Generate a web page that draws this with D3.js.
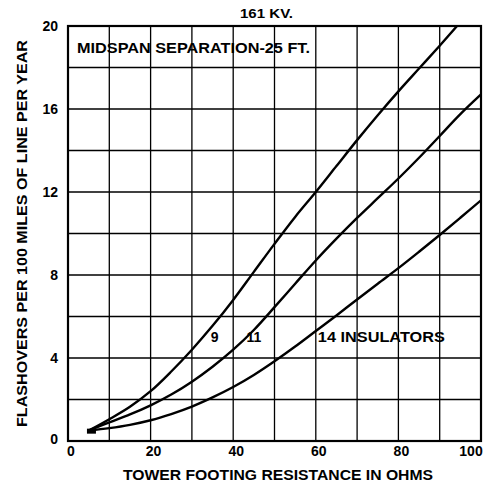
<!DOCTYPE html>
<html><head><meta charset="utf-8">
<script src="https://cdn.jsdelivr.net/npm/d3@7"></script>
<style>
html,body{margin:0;padding:0;background:#fff;}
svg{display:block;}
text{font-family:"Liberation Sans","DejaVu Sans",sans-serif;font-weight:bold;fill:#000;}
</style></head>
<body>
<script>
// ---- data ----
const xTicks = [0, 20, 40, 60, 80, 100];
const yTicks = [0, 4, 8, 12, 16, 20];
const xGrid = [10, 20, 30, 40, 50, 60, 70, 80, 90];
const yGrid = [2, 4, 6, 8, 10, 12, 14, 16, 18];
const seriesNames = ["9", "11", "14 INSULATORS"];
const curve9x  = [5, 10, 15, 20, 25, 30, 35, 40, 45, 50, 55, 60, 65, 70, 75, 80, 85, 90, 94.2];
const curve9y  = [0.5, 1.05, 1.65, 2.4, 3.35, 4.4, 5.55, 6.8, 8.15, 9.5, 10.8, 12.0, 13.25, 14.5, 15.7, 16.85, 17.95, 19.05, 20];
const curve11x = [5, 10, 15, 20, 25, 30, 35, 40, 45, 50, 55, 60, 65, 70, 75, 80, 85, 90, 95, 100];
const curve11y = [0.5, 0.9, 1.28, 1.72, 2.24, 2.86, 3.58, 4.4, 5.35, 6.45, 7.58, 8.7, 9.75, 10.75, 11.7, 12.65, 13.65, 14.7, 15.75, 16.7];
const curve14x = [5, 10, 15, 20, 25, 30, 35, 40, 45, 50, 55, 60, 65, 70, 75, 80, 85, 90, 95, 100];
const curve14y = [0.5, 0.62, 0.78, 1.0, 1.3, 1.66, 2.1, 2.6, 3.18, 3.84, 4.55, 5.3, 6.05, 6.82, 7.58, 8.33, 9.12, 9.93, 10.76, 11.6];
const labelPos = [[35.5, 5], [45, 5], [60.5, 5]]; // data coords of curve labels
const startPoint = [5.8, 0.45];
const title = "161 KV.";
const note = "MIDSPAN SEPARATION-25 FT.";
const xTitle = "TOWER FOOTING RESISTANCE IN OHMS";
const yTitle = "FLASHOVERS PER 100 MILES OF LINE PER YEAR";

// ---- layout ----
const W = 483, H = 491;
const m = {left: 68, right: 2, top: 26, bottom: 50};
const x = d3.scaleLinear().domain([0, 100]).range([m.left, W - m.right]);
const y = d3.scaleLinear().domain([0, 20]).range([H - m.bottom, m.top]);

const svg = d3.select("body").append("svg").attr("width", W).attr("height", H);

// grid
svg.append("g").selectAll("line").data(xGrid).join("line")
  .attr("x1", d => x(d)).attr("x2", d => x(d))
  .attr("y1", y(0)).attr("y2", y(20))
  .attr("stroke", "#000").attr("stroke-width", 1.3);
svg.append("g").selectAll("line").data(yGrid).join("line")
  .attr("y1", d => y(d)).attr("y2", d => y(d))
  .attr("x1", x(0)).attr("x2", x(100))
  .attr("stroke", "#000").attr("stroke-width", 1.3);

// frame
svg.append("rect").attr("x", x(0)).attr("y", y(20))
  .attr("width", x(100) - x(0)).attr("height", y(0) - y(20))
  .attr("fill", "none").attr("stroke", "#000").attr("stroke-width", 2.2);

// clip
svg.append("clipPath").attr("id", "clip").append("rect")
  .attr("x", x(0)).attr("y", y(20)).attr("width", x(100) - x(0)).attr("height", y(0) - y(20));

const line = d3.line().x(d => x(d[0])).y(d => y(d[1])).curve(d3.curveCatmullRom.alpha(0.5));
const series = [d3.zip(curve9x, curve9y), d3.zip(curve11x, curve11y), d3.zip(curve14x, curve14y)];
svg.append("g").attr("clip-path", "url(#clip)").selectAll("path").data(series).join("path")
  .attr("d", line).attr("fill", "none").attr("stroke", "#000").attr("stroke-width", 2.4)
  .attr("stroke-linejoin", "round");

// start block
svg.append("rect")
  .attr("x", x(startPoint[0]) - 5).attr("y", y(startPoint[1]) - 3)
  .attr("width", 9).attr("height", 5).attr("fill", "#000");

// tick labels
svg.append("g").selectAll("text").data(xTicks).join("text")
  .attr("x", d => d === 100 ? x(d) - 10 : x(d) + 3)
  .attr("y", y(0) + 15)
  .attr("text-anchor", "middle").attr("font-size", 14)
  .text(d => d);
svg.append("g").selectAll("text").data(yTicks).join("text")
  .attr("x", x(0) - 10)
  .attr("y", d => y(d) + 5 - (d === 0 ? 2 : 0))
  .attr("text-anchor", "end").attr("font-size", 14)
  .text(d => d);

// curve labels
svg.append("g").selectAll("text").data(seriesNames).join("text")
  .attr("x", (d, i) => x(labelPos[i][0]))
  .attr("y", (d, i) => y(labelPos[i][1]) + 5)
  .attr("text-anchor", (d, i) => i === 2 ? "start" : "middle")
  .attr("font-size", 14)
  .each(function(d, i){ if (i === 2) d3.select(this).attr("textLength", 127).attr("lengthAdjust", "spacingAndGlyphs"); })
  .text(d => d);

// titles
svg.append("text").attr("x", 240).attr("y", 18).attr("font-size", 13.5)
  .attr("textLength", 53).attr("lengthAdjust", "spacingAndGlyphs").text(title);
svg.append("text").attr("x", 77).attr("y", 53).attr("font-size", 14)
  .attr("textLength", 233).attr("lengthAdjust", "spacingAndGlyphs").text(note);
svg.append("text").attr("x", 123).attr("y", 480).attr("font-size", 14)
  .attr("textLength", 310).attr("lengthAdjust", "spacingAndGlyphs").text(xTitle);
svg.append("text").attr("transform", "translate(27,427) rotate(-90)").attr("font-size", 14)
  .attr("textLength", 387).attr("lengthAdjust", "spacingAndGlyphs").text(yTitle);
</script>
</body></html>
